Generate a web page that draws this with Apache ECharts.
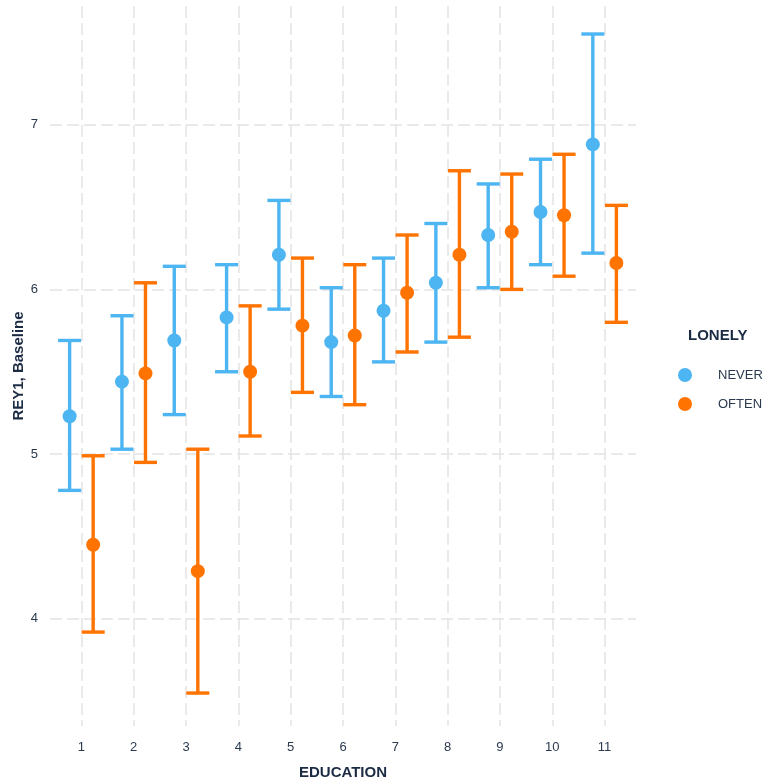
<!DOCTYPE html>
<html>
<head>
<meta charset="utf-8">
<script src="https://cdn.jsdelivr.net/npm/echarts@6/dist/echarts.min.js"></script>
<style>html,body{margin:0;padding:0;background:#fff;}#c{width:765px;height:779px;}</style>
</head>
<body>
<div id="c"></div>
<script>
const categories = [1, 2, 3, 4, 5, 6, 7, 8, 9, 10, 11];
const xTickLabels = ['1', '2', '3', '4', '5', '6', '7', '8', '9', '10', '11'];
const yTickValues = [4, 5, 6, 7];
const groups = ['NEVER', 'OFTEN'];

const neverMean  = [5.23, 5.44, 5.69, 5.83, 6.21, 5.68, 5.87, 6.04, 6.33, 6.47, 6.88];
const neverLow   = [4.78, 5.03, 5.24, 5.50, 5.88, 5.35, 5.56, 5.68, 6.01, 6.15, 6.22];
const neverHigh  = [5.69, 5.84, 6.14, 6.15, 6.54, 6.01, 6.19, 6.40, 6.64, 6.79, 7.55];

const oftenMean  = [4.45, 5.49, 4.29, 5.50, 5.78, 5.72, 5.98, 6.21, 6.35, 6.45, 6.16];
const oftenLow   = [3.92, 4.95, 3.55, 5.11, 5.375, 5.30, 5.62, 5.71, 6.00, 6.08, 5.80];
const oftenHigh  = [4.99, 6.04, 5.03, 5.90, 6.19, 6.15, 6.33, 6.72, 6.70, 6.82, 6.51];

const BLUE = '#4CB5F2';
const ORANGE = '#FF7300';
const DODGE = 0.225;
const FONT = '"Liberation Sans", Arial, sans-serif';

function pointData(mean, off) {
  return categories.map((c, i) => [c + off, mean[i]]);
}
function barData(low, high, off) {
  return categories.map((c, i) => [c + off, low[i], high[i]]);
}
function errorSeries(name, low, high, off, color) {
  return {
    type: 'custom',
    name: name,
    data: barData(low, high, off),
    encode: { x: 0, y: [1, 2] },
    z: 2,
    silent: true,
    renderItem: function (params, api) {
      const x = api.value(0);
      const lo = api.coord([x, api.value(1)]);
      const hi = api.coord([x, api.value(2)]);
      const half = api.size([1, 0])[0] * 0.22;
      const st = { stroke: color, lineWidth: 3.4 };
      return {
        type: 'group',
        children: [
          { type: 'line', shape: { x1: lo[0], y1: lo[1], x2: hi[0], y2: hi[1] }, style: st },
          { type: 'line', shape: { x1: lo[0] - half, y1: lo[1], x2: lo[0] + half, y2: lo[1] }, style: st },
          { type: 'line', shape: { x1: hi[0] - half, y1: hi[1], x2: hi[0] + half, y2: hi[1] }, style: st }
        ]
      };
    }
  };
}

const gridLine = { show: true, lineStyle: { color: '#E3E3E3', width: 1.5, type: [12, 5] } };

const chart = echarts.init(document.getElementById('c'));
chart.setOption({
  backgroundColor: '#ffffff',
  animation: false,
  textStyle: { fontFamily: FONT },
  grid: { left: 50, right: 129, top: 6, bottom: 53, containLabel: false, outerBoundsMode: 'none' },
  title: {
    text: 'LONELY', left: 683, top: 323,
    textStyle: { fontFamily: FONT, fontSize: 15, fontWeight: 'bold', color: '#1C2B44' }
  },
  legend: {
    data: groups,
    orient: 'vertical',
    left: 673, top: 363,
    icon: 'circle',
    itemWidth: 14, itemHeight: 14, itemGap: 15,
    textStyle: { fontFamily: FONT, fontSize: 13, color: '#2B3A4F', padding: [0, 0, 0, 21], lineHeight: 14 }
  },
  xAxis: {
    type: 'value', min: 0.4, max: 11.6,
    name: 'EDUCATION', nameLocation: 'middle', nameGap: 39,
    nameTextStyle: { fontFamily: FONT, fontSize: 15, fontWeight: 'bold', color: '#1C2B44' },
    axisLine: { show: false },
    axisTick: { show: false, customValues: categories },
    axisLabel: {
      customValues: categories, margin: 15, fontSize: 13, color: '#2B3A4F',
      formatter: function (v) { return xTickLabels[categories.indexOf(v)]; }
    },
    splitLine: gridLine
  },
  yAxis: {
    type: 'value', min: 3.35, max: 7.72,
    name: 'REY1, Baseline', nameLocation: 'middle', nameGap: 24, nameMoveOverlap: false,
    nameTextStyle: { fontFamily: FONT, fontSize: 15, fontWeight: 'bold', color: '#1C2B44' },
    axisLine: { show: false },
    axisTick: { show: false, customValues: yTickValues },
    axisLabel: { customValues: yTickValues, margin: 12, fontSize: 13, color: '#2B3A4F' },
    splitLine: gridLine
  },
  series: [
    errorSeries('NEVER_err', neverLow, neverHigh, -DODGE, BLUE),
    errorSeries('OFTEN_err', oftenLow, oftenHigh, DODGE, ORANGE),
    { type: 'scatter', name: 'NEVER', data: pointData(neverMean, -DODGE), symbolSize: 14, itemStyle: { color: BLUE, opacity: 1 }, z: 3 },
    { type: 'scatter', name: 'OFTEN', data: pointData(oftenMean, DODGE), symbolSize: 14, itemStyle: { color: ORANGE, opacity: 1 }, z: 3 }
  ]
});
</script>
</body>
</html>
